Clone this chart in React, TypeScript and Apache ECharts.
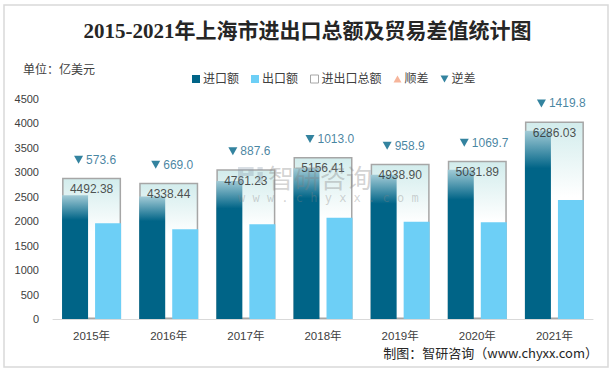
import React, { useEffect, useRef } from "react";
import * as echarts from "echarts";

const years = ["2015年", "2016年", "2017年", "2018年", "2019年", "2020年", "2021年"];
const importVals = [2533.0, 2503.7, 2824.4, 3084.7, 2948.9, 3050.8, 3852.9];
const exportVals = [1959.4, 1834.7, 1936.8, 2071.7, 1990.0, 1981.1, 2433.1];
const totalVals = [4492.38, 4338.44, 4761.23, 5156.41, 4938.9, 5031.89, 6286.03];
const deficitVals = [573.6, 669.0, 887.6, 1013.0, 958.9, 1069.7, 1419.8];
const leftTicks = [0, 500, 1000, 1500, 2000, 2500, 3000, 3500, 4000, 4500];

const TITLE = "2015-2021年上海市进出口总额及贸易差值统计图";
const UNIT = "单位：亿美元";
const SOURCE = "制图：智研咨询（www.chyxx.com）";
const WM_NAME = "智研咨询";
const WM_URL = "w w w . c h y x x . c o m";

const DOWN_TRI = "path://M0,0L10,0L5,9Z";
const UP_TRI = "path://M5,0L10,9L0,9Z";

export default function App() {
  const ref = useRef<HTMLDivElement>(null);
  useEffect(() => {
    if (!ref.current) return;
    try {
      echarts.graphic.registerShape(
        "logo",
        echarts.graphic.extendPath(
          "M0,0 L12,0 L12,9 L4,9 L4,16 L0,16 Z M4,3 L4,6 L8,6 L8,3 Z M15,0 L19,0 L19,3 L15,3 Z M15,5 L19,5 L19,16 L15,16 Z",
          {}
        )
      );
    } catch (e) {}
    const chart = echarts.init(ref.current, undefined, { renderer: "svg" });
    const numFont = "'Liberation Sans', Arial, sans-serif";
    const cjkFont = "'Liberation Sans', 'Noto Sans CJK SC', sans-serif";
    chart.setOption({
      animation: false,
      backgroundColor: "#ffffff",
      title: {
        text: TITLE,
        left: "center",
        top: 15,
        textStyle: {
          fontFamily: "'Liberation Serif', 'Noto Sans CJK SC', serif",
          fontWeight: "bold",
          fontSize: 21,
          color: "#262626",
        },
      },
      legend: {
        left: 187,
        top: 68,
        itemWidth: 8,
        itemHeight: 8,
        itemGap: 12,
        textStyle: { fontSize: 12, color: "#404040", fontFamily: cjkFont, padding: [0, 0, 0, -2] },
        data: [
          { name: "进口额", icon: "rect", itemStyle: { color: "#006487" } },
          { name: "出口额", icon: "rect", itemStyle: { color: "#6dcff6" } },
          { name: "进出口总额", icon: "rect", itemStyle: { color: "#ffffff", borderColor: "#a6a6a6", borderWidth: 1 } },
          { name: "顺差", icon: UP_TRI, itemStyle: { color: "#f4a282" } },
          { name: "逆差", icon: DOWN_TRI, itemStyle: { color: "#006487" } },
        ],
      },
      grid: { left: 53, right: 22, top: 99, bottom: 53, containLabel: false },
      xAxis: [
        {
          type: "category",
          data: years,
          axisLine: { lineStyle: { color: "#d9d9d9", width: 1 } },
          axisTick: { show: false },
          axisLabel: { fontSize: 11.5, color: "#404040", margin: 11, fontFamily: cjkFont },
        },
        { type: "category", data: years, show: false },
      ],
      yAxis: [
        {
          type: "value",
          min: leftTicks[0],
          max: leftTicks[leftTicks.length - 1],
          interval: 500,
          axisLine: { show: false },
          axisTick: { show: false },
          splitLine: { show: false },
          axisLabel: {
            fontSize: 11,
            color: "#404040",
            margin: 14,
            fontFamily: numFont,
            formatter: (v: number) => String(v),
          },
        },
        { type: "value", min: 0, max: 7000, show: false, splitLine: { show: false } },
      ],
      series: [
        {
          name: "进出口总额",
          type: "bar",
          xAxisIndex: 1,
          yAxisIndex: 1,
          barWidth: 59,
          data: totalVals,
          itemStyle: {
            color: new echarts.graphic.LinearGradient(0, 0, 0, 1, [
              { offset: 0, color: "#d2ecec" },
              { offset: 0.38, color: "#ffffff" },
              { offset: 1, color: "#ffffff" },
            ]),
            borderColor: "#a6a6a6",
            borderWidth: 1.5,
          },
          z: 1,
        },
        {
          name: "进口额",
          type: "bar",
          barWidth: 26,
          barGap: "27%",
          data: importVals,
          itemStyle: {
            color: new echarts.graphic.LinearGradient(0, 0, 0, 1, [
              { offset: 0, color: "#a2cbd6" },
              { offset: 0.2, color: "#006487" },
              { offset: 1, color: "#006487" },
            ]),
          },
          z: 2,
        },
        {
          name: "出口额",
          type: "bar",
          barWidth: 26,
          data: exportVals,
          itemStyle: { color: "#6dcff6" },
          z: 2,
        },
        {
          name: "总额标签",
          type: "scatter",
          xAxisIndex: 1,
          yAxisIndex: 1,
          data: totalVals,
          symbolSize: 1,
          itemStyle: { color: "rgba(0,0,0,0)" },
          label: {
            show: true,
            position: "bottom",
            distance: 5,
            fontSize: 12,
            color: "#262626",
            fontFamily: numFont,
            formatter: (p: any) => Number(p.value).toFixed(2),
          },
          z: 6,
          silent: true,
        },
        {
          name: "顺差",
          type: "scatter",
          data: [],
          symbol: UP_TRI,
          itemStyle: { color: "#f4a282" },
        },
        {
          name: "逆差",
          type: "scatter",
          xAxisIndex: 1,
          yAxisIndex: 1,
          data: totalVals,
          symbol: DOWN_TRI,
          symbolSize: [9, 8],
          symbolOffset: [-13, -18],
          itemStyle: { color: "#006487" },
          label: {
            show: true,
            position: "right",
            distance: 3,
            fontSize: 12,
            color: "#15668a",
            fontFamily: numFont,
            formatter: (p: any) => deficitVals[p.dataIndex].toFixed(1),
          },
          z: 5,
        },
      ],
      graphic: [
        {
          type: "rect",
          shape: { x: 4, y: 5, width: 604, height: 362 },
          style: { fill: "none", stroke: "#d9d9d9", lineWidth: 1.5 },
          silent: true,
        },
        {
          type: "text",
          left: 23,
          top: 62,
          style: { text: UNIT, fill: "#404040", font: "12px 'Noto Sans CJK SC', sans-serif" },
        },
        {
          type: "text",
          right: 17,
          top: 346,
          style: { text: SOURCE, fill: "#262626", font: "13px 'Noto Sans CJK SC', sans-serif" },
        },
        {
          type: "logo",
          x: 238,
          y: 167,
          scaleX: 1.3,
          scaleY: 1,
          style: { fill: "rgba(130,150,170,0.3)" },
          z: 100,
          silent: true,
        },
        {
          type: "text",
          x: 268,
          y: 163,
          style: { text: WM_NAME, fill: "rgba(130,130,130,0.35)", font: "26px 'Noto Sans CJK SC', sans-serif" },
          z: 100,
          silent: true,
        },
        {
          type: "text",
          x: 238,
          y: 192,
          style: { text: WM_URL, fill: "rgba(130,130,130,0.35)", font: "12px 'DejaVu Sans Mono', monospace" },
          z: 100,
          silent: true,
        },
      ],
    });
    return () => chart.dispose();
  }, []);
  return <div ref={ref} style={{ position: "fixed", left: 0, top: 0, width: 615, height: 372 }} />;
}
